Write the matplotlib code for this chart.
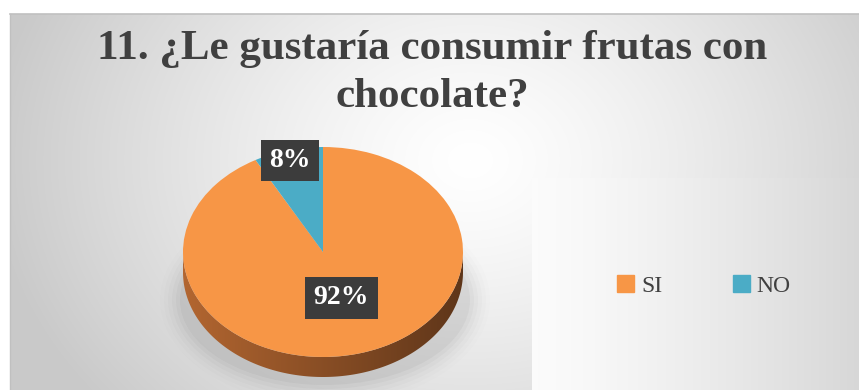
import numpy as np
import matplotlib
matplotlib.use("Agg")
import matplotlib.pyplot as plt
from matplotlib.patches import Rectangle, Polygon, Ellipse

# ---- data ----
categories = ["SI", "NO"]
values = [92, 8]
colors = ["#F79646", "#4BACC6"]
title_lines = ["11. ¿Le gustaría consumir frutas con", "chocolate?"]

W, H = 859, 390
fig = plt.figure(figsize=(W / 100, H / 100), dpi=100)
fig.patch.set_facecolor("white")

# background axes in pixel coords
bg = fig.add_axes([0, 0, 1, 1])
bg.set_xlim(0, W)
bg.set_ylim(H, 0)
bg.axis("off")

# radial gradient chart area
x0, y0 = 10, 14
yy, xx = np.mgrid[y0:H, x0:W]
r = np.sqrt(((xx - 470) / 480.0) ** 2 + ((yy - 160) / 380.0) ** 2)
g = 1 - 0.21 * np.clip(r, 0, 1) ** 1.3
img = np.dstack([g, g, g])
bg.imshow(img, extent=(x0, W, H, y0), zorder=0, interpolation="bilinear")
bg.plot([x0, W], [y0, y0], color="#c0c0c0", lw=1.2, zorder=1)
bg.plot([x0, x0], [y0, H], color="#c0c0c0", lw=1.0, zorder=1)

# legend area with linear gradient
lx0, ly0 = 532, 178
lxx = np.linspace(0, 1, 200)
lg = 0.985 - 0.14 * lxx ** 1.3
limg = np.dstack([np.tile(lg, (50, 1))] * 3)
bg.imshow(limg, extent=(lx0, W, H, ly0), zorder=1, interpolation="bilinear", aspect="auto")
bg.set_xlim(0, W)
bg.set_ylim(H, 0)

# title
for line, yb in zip(title_lines, [59, 107]):
    bg.text(432, yb, line, ha="center", va="baseline", fontsize=31, fontweight="bold",
            family="Liberation Serif", color="#404040", zorder=5)

# soft shadow under pie
for i, a in enumerate(np.linspace(0.05, 0.01, 6)):
    bg.add_patch(Ellipse((325, 300), 290 + i * 8, 170 + i * 8, facecolor="black",
                         alpha=a * 0.6, edgecolor="none", zorder=2))

# ---- pie axes (ellipse) ----
cx, cy, rx, ry, depth = 323, 252, 140, 105, 20
d = depth / ry
pax = fig.add_axes([(cx - rx) / W, (H - (cy + ry + depth)) / H, 2 * rx / W, (2 * ry + depth) / H])
pax.set_xlim(-1, 1)
pax.set_ylim(-1 - d, 1)
pax.axis("off")
pax.set_facecolor("none")

# side extrusion (front half)
t = np.linspace(np.pi, 2 * np.pi, 200)
top = np.column_stack([np.cos(t), np.sin(t)])
bot = np.column_stack([np.cos(t[::-1]), np.sin(t[::-1]) - d])
side = Polygon(np.vstack([top, bot]), closed=True, facecolor="none", edgecolor="none")
pax.add_patch(side)
sg = np.linspace(0, 1, 300)
sr = 0.70 - 0.33 * sg
sgc = 0.40 - 0.19 * sg
sb = 0.19 - 0.09 * sg
simg = np.dstack([np.tile(c, (10, 1)) for c in (sr, sgc, sb)])
im = pax.imshow(simg, extent=(-1, 1, -1 - d, 0.05), aspect="auto", zorder=1, interpolation="bilinear")
im.set_clip_path(side)

wedges, _ = pax.pie(values, colors=colors, startangle=90, counterclock=False,
                    radius=1, wedgeprops=dict(edgecolor="none"))
for w in wedges:
    w.set_zorder(2)
pax.set_xlim(-1, 1)
pax.set_ylim(-1 - d, 1)
pax.set_aspect("auto")

# data labels
label_dist = [0.45, 0.9]
for w, v, dist in zip(wedges, values, label_dist):
    ang = np.deg2rad((w.theta1 + w.theta2) / 2)
    pax.text(dist * np.cos(ang) + (0.02 if v > 50 else -0.01), dist * np.sin(ang),
             f"{v}%", ha="center", va="center", fontsize=20, fontweight="bold",
             family="Liberation Serif", color="white", zorder=6,
             bbox=dict(boxstyle="square,pad=0.3", facecolor="#3c3c3c", edgecolor="none"))

# legend
leg = bg.legend(handles=[Rectangle((0, 0), 1, 1, color=c) for c in colors], labels=categories,
                loc="center", bbox_to_anchor=(704 / W, 1 - 286 / H), ncol=2, frameon=False,
                prop=dict(family="Liberation Serif", size=17), handlelength=0.7, handleheight=0.7,
                handletextpad=0.3, columnspacing=3.0, labelcolor="#404040")
leg.set_zorder(6)

fig.savefig("out.png", dpi=100)
